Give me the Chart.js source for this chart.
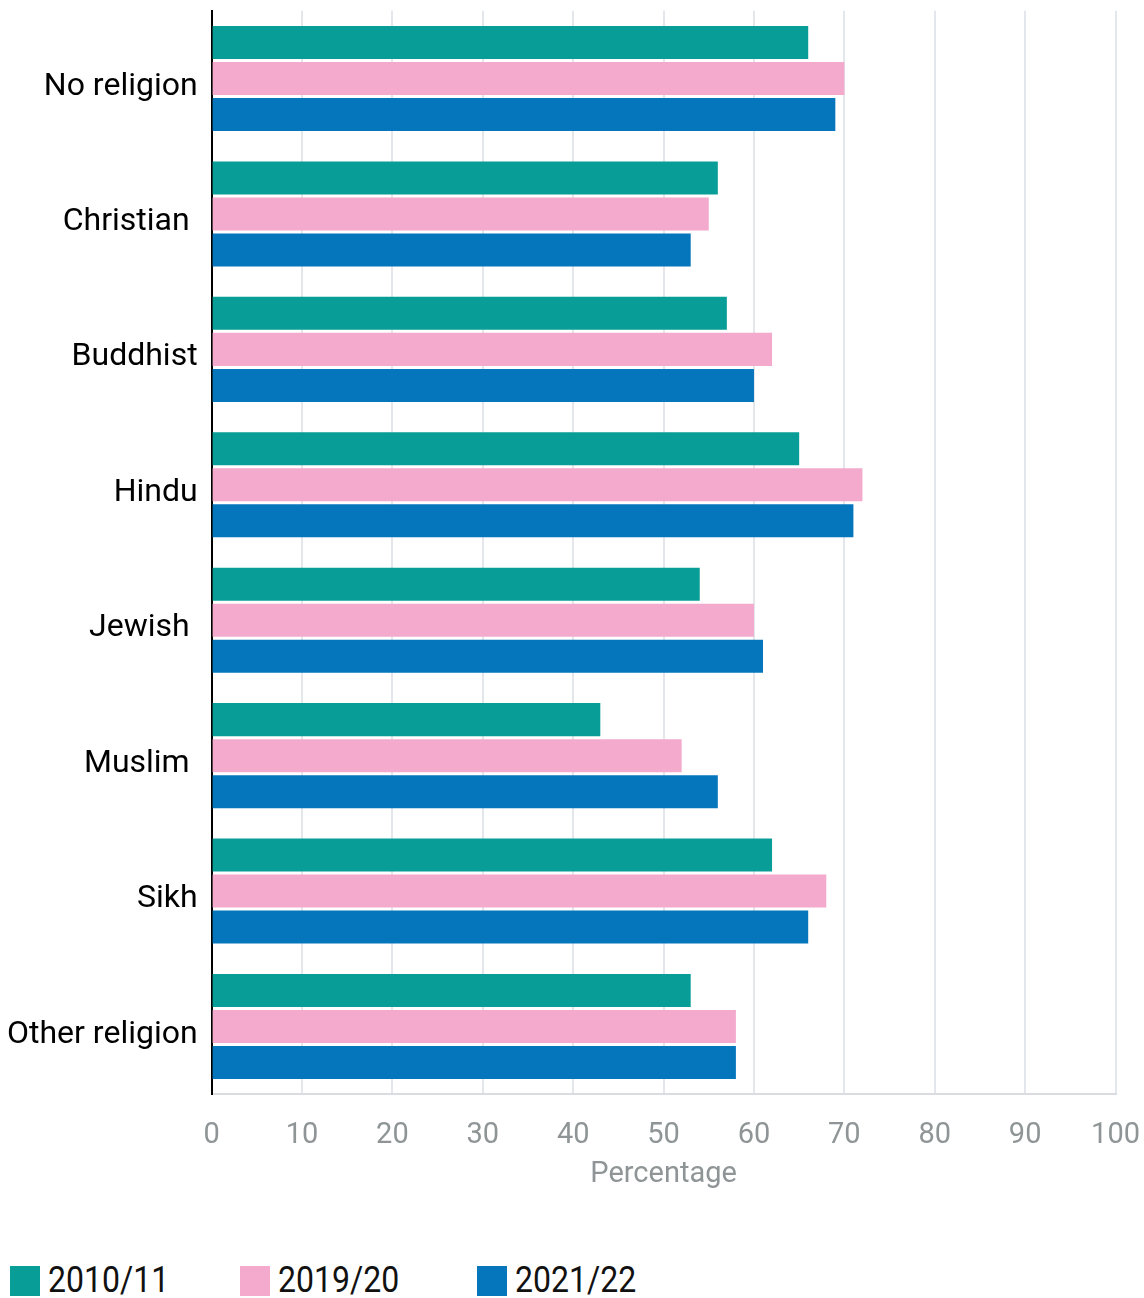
<!DOCTYPE html>
<html>
<head>
<meta charset="utf-8">
<script src="https://cdn.jsdelivr.net/npm/chart.js@4/dist/chart.umd.min.js"></script>
<style>
  html, body { margin: 0; padding: 0; background: #fff; overflow: hidden; }
  #wrap { position: relative; width: 1144px; height: 1298px; overflow: hidden; }
  #box { position: absolute; left: 0; top: -8px; width: 1144px; height: 1200px; }
  #legend { position: absolute; left: 10px; top: 1262px; height: 36px; font-family: Roboto, sans-serif; }
  .item { position: absolute; top: 0; display: block; white-space: nowrap; }
  .sw { position: absolute; top: 4px; width: 30px; height: 30px; }
  .lt { position: absolute; left: 38px; top: -2px; font-size: 36px; line-height: 40px; color: #111; transform: scaleX(0.89); transform-origin: 0 50%; }
</style>
</head>
<body>
<div id="wrap">
  <div id="box"><canvas id="c"></canvas></div>
  <div id="legend"></div>
</div>
<script>
const categories = ["No religion", "Christian ", "Buddhist", "Hindu", "Jewish ", "Muslim ", "Sikh", "Other religion"];
const seriesNames = ["2010/11", "2019/20", "2021/22"];
const values2010 = [66, 56, 57, 65, 54, 43, 62, 53];
const values2019 = [70, 55, 62, 72, 60, 52, 68, 58];
const values2021 = [69, 53, 60, 71, 61, 56, 66, 58];
const xTicks = [0, 10, 20, 30, 40, 50, 60, 70, 80, 90, 100];
const colors = ["#089e97", "#f3aacd", "#0576bc"];

const datasets = [values2010, values2019, values2021].map((v, i) => ({
  label: seriesNames[i],
  data: v,
  backgroundColor: colors[i],
  borderWidth: 0,
  barPercentage: 0.917,
  categoryPercentage: 0.798
}));

new Chart(document.getElementById('c'), {
  type: 'bar',
  data: { labels: categories, datasets },
  options: {
    indexAxis: 'y',
    responsive: true,
    maintainAspectRatio: false,
    animation: false,
    layout: { padding: { left: -7, top: 10, right: 0, bottom: 0 } },
    plugins: { legend: { display: false }, tooltip: { enabled: false } },
    scales: {
      x: {
        min: 0, max: 100,
        afterBuildTicks: (s) => { s.ticks = xTicks.map(v => ({ value: v })); },
        grid: { color: '#e3e6eb', lineWidth: 2, drawTicks: false },
        border: { color: '#d9dce1', width: 2 },
        ticks: { color: '#8f9596', font: { family: 'Roboto', size: 29, lineHeight: 2.62 }, padding: 4, maxRotation: 0 },
        title: { display: true, text: 'Percentage', color: '#8f9596', font: { family: 'Roboto', size: 29, lineHeight: 1.2 }, padding: { top: -21, bottom: 0 } }
      },
      y: {
        grid: { display: false, drawTicks: false },
        border: { color: '#000', width: 2 },
        ticks: { color: '#000', font: { family: 'Roboto', size: 32, lineHeight: 0.3 }, padding: 14, labelOffset: 8 }
      }
    }
  }
});

const lg = document.getElementById('legend');
const lefts = [0, 230, 467];
seriesNames.forEach((n, i) => {
  const it = document.createElement('div');
  it.className = 'item';
  it.style.left = lefts[i] + 'px';
  const sw = document.createElement('span');
  sw.className = 'sw';
  sw.style.background = colors[i];
  const t = document.createElement('span');
  t.className = 'lt';
  t.textContent = n;
  it.appendChild(sw); it.appendChild(t);
  lg.appendChild(it);
});
</script>
</body>
</html>
